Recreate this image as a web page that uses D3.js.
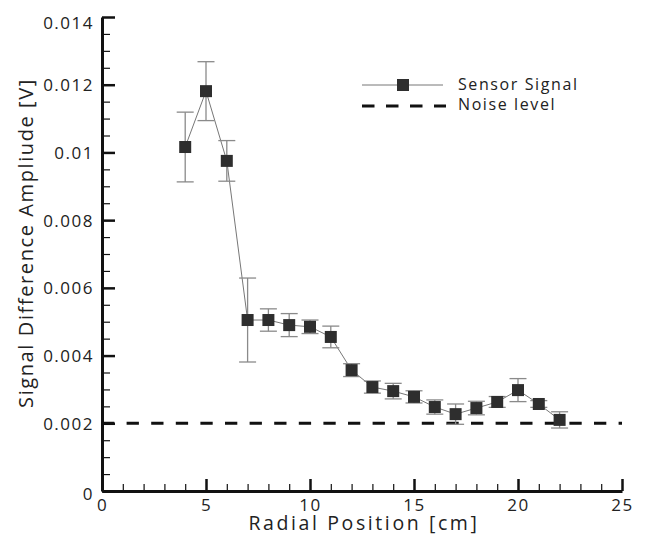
<!DOCTYPE html>
<html>
<head>
<meta charset="utf-8">
<script src="https://cdn.jsdelivr.net/npm/d3@7"></script>
<style>
body { margin: 0; background: #fff; }
svg { display: block; font-family: "Open Sans", sans-serif; }
</style>
</head>
<body>
<div id="content"></div>
<script>
// data
var radius = [4, 5, 6, 7, 8, 9, 10, 11, 12, 13, 14, 15, 16, 17, 18, 19, 20, 21, 22];
var signal = [0.01016, 0.01181, 0.00975, 0.00505, 0.00505, 0.0049, 0.00485, 0.00455, 0.00357, 0.00307,
              0.00295, 0.00278, 0.00248, 0.00227, 0.00245, 0.00263, 0.00298, 0.00257, 0.0021];
var signalErr = [0.00103, 0.00087, 0.0006, 0.00124, 0.00033, 0.00034, 0.0002, 0.00032, 0.00019, 0.00018,
                 0.00023, 0.00018, 0.00021, 0.0003, 0.0002, 0.00016, 0.00034, 0.0001, 0.00024];
var noiseLevel = 0.002;
var xTicks = [0, 5, 10, 15, 20, 25];
var xMinorTicks = [1, 2, 3, 4, 6, 7, 8, 9, 11, 12, 13, 14, 16, 17, 18, 19, 21, 22, 23, 24];
var yTicks = [0, 0.002, 0.004, 0.006, 0.008, 0.01, 0.012, 0.014];
var yMinorTicks = [0.0005, 0.001, 0.0015, 0.0025, 0.003, 0.0035, 0.0045, 0.005, 0.0055, 0.0065, 0.007, 0.0075,
                   0.0085, 0.009, 0.0095, 0.0105, 0.011, 0.0115, 0.0125, 0.013, 0.0135];
var seriesNames = ['Sensor Signal', 'Noise level'];

var width = 646, height = 536;
var svg = d3.select('#content').append('svg').attr('width', width).attr('height', height);

var x = d3.scaleLinear().domain([0, 25]).range([102, 622]);
var y = d3.scaleLinear().domain([0, 0.014]).range([491, 17]);

// minor ticks first so the main axis sits on top
svg.append('g').attr('transform', 'translate(0,' + y(0) + ')')
	.call(d3.axisBottom(x).tickValues(xMinorTicks).tickSize(-7).tickSizeOuter(0).tickFormat(''))
	.call(function(g){ g.select('.domain').remove(); g.selectAll('line').attr('stroke', '#111').attr('stroke-width', 1.2); });

svg.append('g').attr('transform', 'translate(' + x(0) + ',0)')
	.call(d3.axisLeft(y).tickValues(yMinorTicks).tickSize(-8).tickSizeOuter(0).tickFormat(''))
	.call(function(g){ g.select('.domain').remove(); g.selectAll('line').attr('stroke', '#111').attr('stroke-width', 1.2); });

var xAxis = svg.append('g').attr('transform', 'translate(0,' + y(0) + ')')
	.call(d3.axisBottom(x).tickValues(xTicks).tickSize(-12).tickSizeOuter(0).tickPadding(8).tickFormat(d3.format('d')));
xAxis.select('.domain').attr('stroke', '#111').attr('stroke-width', 3);
xAxis.selectAll('line').attr('stroke', '#111').attr('stroke-width', 2.5);
xAxis.selectAll('text').attr('font-size', 17).attr('fill', '#222').attr('letter-spacing', 1.5)
	.attr('font-family', '"Open Sans", sans-serif').attr('dy', '0.7em');

var yAxis = svg.append('g').attr('transform', 'translate(' + x(0) + ',0)')
	.call(d3.axisLeft(y).tickValues(yTicks).tickSize(-13).tickSizeOuter(0).tickPadding(8).tickFormat(d3.format('~g')));
yAxis.select('.domain').attr('stroke', '#111').attr('stroke-width', 3);
yAxis.selectAll('line').attr('stroke', '#111').attr('stroke-width', 2.5);
yAxis.selectAll('text').attr('font-size', 17).attr('fill', '#222').attr('letter-spacing', 1.5)
	.attr('font-family', '"Open Sans", sans-serif')
	.attr('dy', function(d){
		if(d == 0.014) return '0.7em';
		if(d == 0) return '0.5em';
		return '0.35em';
	});

// axis titles
svg.append('text')
	.attr('x', (x(0) + x(25)) / 2 + 2).attr('y', 530)
	.attr('text-anchor', 'middle').attr('font-size', 19.5).attr('letter-spacing', 2.6).attr('fill', '#222')
	.text('Radial Position [cm]');

svg.append('text')
	.attr('transform', 'translate(33,243) rotate(-90)')
	.attr('text-anchor', 'middle').attr('font-size', 20).attr('letter-spacing', 1.6).attr('fill', '#222')
	.text('Signal Difference Ampliude [V]');

// noise level
svg.append('line')
	.attr('x1', x(0)).attr('x2', x(25)).attr('y1', y(noiseLevel)).attr('y2', y(noiseLevel))
	.attr('stroke', '#111').attr('stroke-width', 3).attr('stroke-dasharray', '12.3,12.3');

// sensor signal
var points = radius.map(function(r, i){ return {x: r, y: signal[i], e: signalErr[i]}; });

svg.append('path').datum(points)
	.attr('fill', 'none').attr('stroke', '#777').attr('stroke-width', 1)
	.attr('d', d3.line().x(function(d){ return x(d.x); }).y(function(d){ return y(d.y); }));

var err = svg.append('g').attr('stroke', '#8a8a8a').attr('stroke-width', 1.3);
err.selectAll('.bar').data(points).enter().append('line')
	.attr('x1', function(d){ return x(d.x); }).attr('x2', function(d){ return x(d.x); })
	.attr('y1', function(d){ return y(d.y - d.e); }).attr('y2', function(d){ return y(d.y + d.e); });
err.selectAll('.capTop').data(points).enter().append('line')
	.attr('x1', function(d){ return x(d.x) - 8.5; }).attr('x2', function(d){ return x(d.x) + 8.5; })
	.attr('y1', function(d){ return y(d.y + d.e); }).attr('y2', function(d){ return y(d.y + d.e); });
err.selectAll('.capBottom').data(points).enter().append('line')
	.attr('x1', function(d){ return x(d.x) - 8.5; }).attr('x2', function(d){ return x(d.x) + 8.5; })
	.attr('y1', function(d){ return y(d.y - d.e); }).attr('y2', function(d){ return y(d.y - d.e); });

svg.selectAll('.marker').data(points).enter().append('rect')
	.attr('class', 'marker')
	.attr('x', function(d){ return x(d.x) - 6; }).attr('y', function(d){ return y(d.y) - 6; })
	.attr('width', 12).attr('height', 12).attr('fill', '#2e2e2e');

// legend
var legend = svg.append('g');
legend.append('line').attr('x1', 362).attr('x2', 443).attr('y1', 85).attr('y2', 85)
	.attr('stroke', '#777').attr('stroke-width', 1);
legend.append('rect').attr('x', 397).attr('y', 79).attr('width', 12).attr('height', 12).attr('fill', '#2e2e2e');
legend.append('line').attr('x1', 362).attr('x2', 446).attr('y1', 106).attr('y2', 106)
	.attr('stroke', '#111').attr('stroke-width', 3).attr('stroke-dasharray', '12.5,11.5');
legend.selectAll('.label').data(seriesNames).enter().append('text')
	.attr('x', 458).attr('y', function(d, i){ return 90 + i * 20; })
	.attr('font-size', 16).attr('letter-spacing', 1.6).attr('fill', '#222')
	.text(function(d){ return d; });
</script>
</body>
</html>
